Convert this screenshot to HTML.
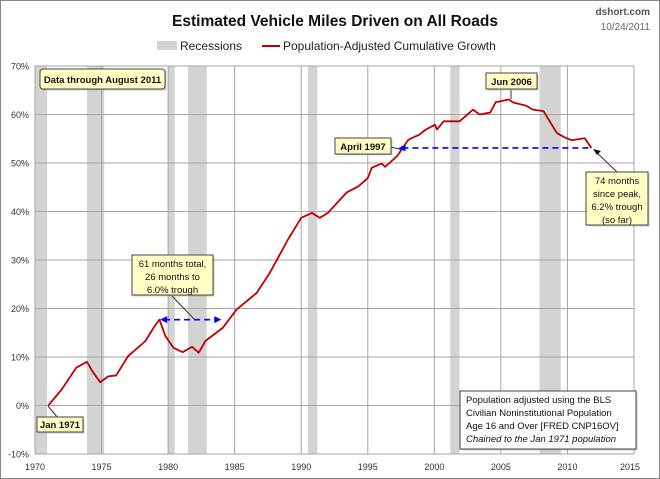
<!DOCTYPE html>
<html><head><meta charset="utf-8"><style>
body{margin:0;background:#fff;}
svg{display:block;font-family:"Liberation Sans",sans-serif;}
</style></head><body>
<svg id="c" width="660" height="479">
<rect x="0.5" y="0.5" width="659" height="478" fill="#fff" stroke="#888"/>
<text x="335" y="26" text-anchor="middle" font-size="15.5" font-weight="bold" fill="#111">Estimated Vehicle Miles Driven on All Roads</text>
<text x="650" y="15" text-anchor="end" font-size="10" font-weight="bold" fill="#555">dshort.com</text>
<text x="650" y="30" text-anchor="end" font-size="10" fill="#666">10/24/2011</text>
<g>
<rect x="157" y="41" width="20" height="9" fill="#d3d3d3"/>
<text x="180" y="50" font-size="12" fill="#222">Recessions</text>
<line x1="262" y1="46" x2="280" y2="46" stroke="#c00000" stroke-width="2"/>
<text x="283" y="50" font-size="12" fill="#222">Population-Adjusted Cumulative Growth</text>
</g>
<g id="plot"></g>
</svg>
<script>
const recessionStarts=[1969.9,1973.9,1980.0,1981.5,1990.5,2001.2,2007.9];
const recessionEnds=[1970.9,1975.2,1980.5,1982.9,1991.2,2001.9,2009.5];
const years=[1971.0,1972.0,1973.1,1973.9,1974.3,1974.9,1975.5,1976.1,1977.0,1978.3,1978.9,1979.35,1979.8,1980.4,1981.1,1981.8,1982.3,1982.8,1984.1,1985.15,1986.65,1987.65,1989.0,1990.0,1990.8,1991.4,1992.0,1993.4,1994.3,1995.0,1995.3,1996.05,1996.3,1997.2,1998.05,1998.9,1999.3,2000.05,2000.2,2000.7,2001.9,2002.9,2003.4,2004.2,2004.6,2005.1,2005.6,2005.9,2006.9,2007.4,2008.2,2009.2,2009.7,2010.3,2011.3,2011.8];
const growth=[0,3.3,7.8,9.0,7.1,4.8,6.0,6.2,10.2,13.3,16.0,17.7,14.3,11.9,11.0,12.1,10.9,13.3,16.0,19.8,23.2,27.4,34.2,38.7,39.7,38.7,39.7,43.9,45.2,46.9,49.0,49.9,49.2,51.4,54.8,55.9,56.8,57.9,56.9,58.6,58.6,61.0,60.0,60.4,62.5,62.8,63.1,62.5,61.8,61.0,60.7,56.2,55.4,54.7,55.1,53.1];
const xTicks=[1970,1975,1980,1985,1990,1995,2000,2005,2010,2015];
const yTicks=[-10,0,10,20,30,40,50,60,70];
const X0=35,X1=634,Y0=454,Y1=66;
const xs=v=>X0+(v-1970)/45*(X1-X0);
const ys=v=>Y0-(v+10)/80*(Y0-Y1);
const NS="http://www.w3.org/2000/svg";
const g=document.getElementById('plot');
function mk(t,a,p){const e=document.createElementNS(NS,t);for(const k in a)e.setAttribute(k,a[k]);(p||g).appendChild(e);return e;}
for(let i=0;i<recessionStarts.length;i++){
 const r=mk('rect',{x:Math.max(X0,xs(recessionStarts[i])),y:Y1,width:xs(recessionEnds[i])-Math.max(X0,xs(recessionStarts[i])),height:Y0-Y1,fill:'#d3d3d3'});
 
 
}
yTicks.forEach(v=>{
 const l=mk('line',{x1:X0,x2:X1,y1:ys(v),y2:ys(v),stroke:'#a6a6a6','stroke-width':1});
 
 
 const t=mk('text',{x:X0-6,y:ys(v)+3.5,'text-anchor':'end','font-size':9,fill:'#333'});
 t.textContent=v+'%';
 
 
});
xTicks.forEach(v=>{
 const l=mk('line',{x1:xs(v),x2:xs(v),y1:Y1,y2:Y0,stroke:'#a6a6a6','stroke-width':1});
 
 
 const t=mk('text',{x:Math.min(xs(v),630),y:Y0+16,'text-anchor':'middle','font-size':9,fill:'#333'});
 t.textContent=v;
 
 
});
const line=mk('polyline',{points:years.map((y,i)=>xs(y)+','+ys(growth[i])).join(' '),fill:'none',stroke:'#c00000','stroke-width':1.8,'stroke-linejoin':'round'});


function arrow(xa,xb,yv,name,both){
 const l=mk('line',{x1:xs(xa)+4,x2:xs(xb)-(both?4:0),y1:ys(yv),y2:ys(yv),stroke:'#0000ff','stroke-width':1.6,'stroke-dasharray':'6,4'});
 
 
 const a=mk('polygon',{points:`${xs(xa)},${ys(yv)} ${xs(xa)+7},${ys(yv)-3.5} ${xs(xa)+7},${ys(yv)+3.5}`,fill:'#0000ff'});
 
 
 if(both){const b=mk('polygon',{points:`${xs(xb)},${ys(yv)} ${xs(xb)-7},${ys(yv)-3.5} ${xs(xb)-7},${ys(yv)+3.5}`,fill:'#0000ff'});
 
 }
}
arrow(1979.4,1984.0,17.7,'recovery-1979-arrow',true);
arrow(1997.3,2011.8,53.1,'recovery-1997-arrow',false);
function box(x,y,w,h,lines,name,opts){
 opts=opts||{};
 const r=mk('rect',{x:x+1.5,y:y+1.5,width:w,height:h,fill:'#999',opacity:0.5});
 
 
 const b=mk('rect',{x:x,y:y,width:w,height:h,fill:opts.fill||'#ffffc6',stroke:'#444','stroke-width':1,rx:opts.rx||0});
 
 
 lines.forEach((s,i)=>{
  const t=mk('text',{x:opts.left?x+6:x+w/2,y:y+(opts.ty||13)+i*(opts.lh||13),'text-anchor':opts.left?'start':'middle','font-size':opts.fs||10,'font-weight':opts.bold?'bold':'normal','font-style':(opts.italicLast&&i==lines.length-1)?'italic':'normal',fill:'#111'});
  t.textContent=s;
  
  
 });
}
function lead(x1,y1,x2,y2,name){
 const l=mk('line',{x1,y1,x2,y2,stroke:'#333','stroke-width':1});
 
 
}
lead(48,406,58,418,'jan1971-leader');
lead(172,296,195,320,'trough-leader');
lead(391,147,403,150,'april1997-leader');
lead(511,90,511,99,'jun2006-leader');
lead(617,172,595,151,'since-peak-leader');
const ah=mk('polygon',{points:'593,149 601,151 597,155',fill:'#111'});


box(40,69,125,20,['Data through August 2011'],'data-through-note',{bold:true,rx:3,ty:14,fs:9.5});
box(37,417,46,15,['Jan 1971'],'jan1971-callout',{bold:true,ty:11,fs:9.5});
box(132,255,81,40,['61 months total,','26 months to','6.0% trough'],'trough-callout',{ty:12,lh:13,fs:9.5});
box(335,138,56,16,['April 1997'],'april1997-callout',{bold:true,ty:12,fs:9.5});
box(486,73,51,16,['Jun 2006'],'jun2006-callout',{bold:true,ty:12,fs:9.5});
box(586,172,62,53,['74 months','since peak,','6.2% trough','(so far)'],'since-peak-callout',{ty:12,lh:13,fs:9.5});
box(460,391,176,58,['Population adjusted using the BLS','Civilian Noninstitutional Population','Age 16 and Over  [FRED CNP16OV]','Chained to the Jan 1971 population'],'method-note',{left:true,fill:'#fff',ty:12,lh:13,fs:9.5,italicLast:true});
</script>
</body></html>
